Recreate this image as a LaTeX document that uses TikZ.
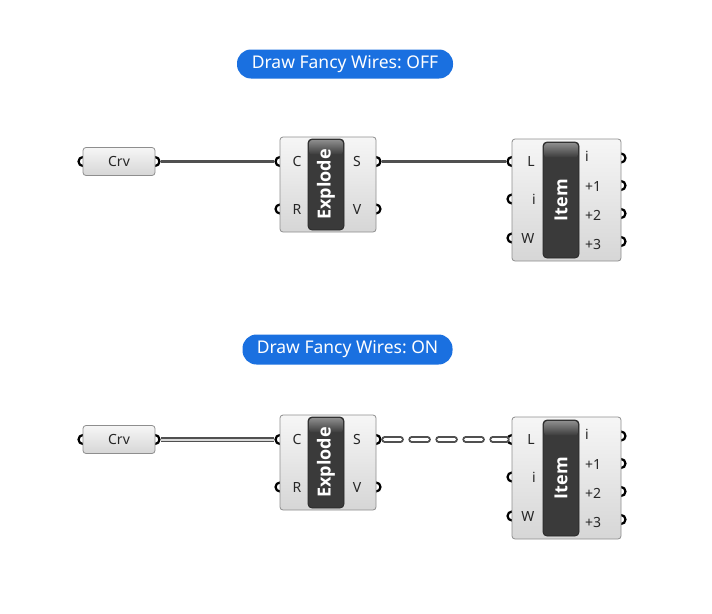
\documentclass[tikz,border=0pt]{standalone}
\usepackage{fontspec}
\setmainfont{Noto Sans}
\newfontfamily\barfont{Open Sans}
\usetikzlibrary{calc}
\frenchspacing
\definecolor{pillblue}{HTML}{1A70E0}
\definecolor{compedge}{HTML}{8E8E8E}
\definecolor{comptop}{HTML}{F6F6F6}
\definecolor{compbot}{HTML}{D6D6D6}
\definecolor{bardark}{HTML}{3A3A3A}
\definecolor{wirecol}{HTML}{505050}
\tikzset{
  pill/.style={fill=pillblue, rounded corners=14pt, text=white, inner sep=0pt,
    font=\frenchspacing\fontsize{17.5}{17.5}\selectfont},
  comp/.style={draw=compedge, line width=0.8pt, rounded corners=3pt,
    top color=comptop, bottom color=compbot, inner sep=0pt,
    font=\fontsize{14}{14}\selectfont, text=black!85},
  bar/.style={draw=black!85, line width=0.8pt, fill=bardark, rounded corners=4pt, inner sep=0pt},
  bartext/.style={rotate=90, text=white, font=\barfont\bfseries\fontsize{18}{18}\selectfont},
  pin/.style={circle, draw=black, fill=white, line width=2.2pt, inner sep=0pt, minimum size=9pt},
  plab/.style={font=\fontsize{14}{14}\selectfont, text=black!85, inner sep=0pt},
  wire/.style={draw=wirecol, line width=3pt},
  listwire/.style={draw=wirecol, line width=1.2pt, double=white!85!black, double distance=2pt},
}
\begin{document}
\begin{tikzpicture}[x=1pt,y=-1pt]
\useasboundingbox[fill=white] (0,0) rectangle (712,613);

\node[pill, minimum width=216pt, minimum height=29pt] (titleoff) at (345,64) {Draw Fancy Wires: OFF};
\node[pill, minimum width=210pt, minimum height=30pt] (titleon) at (347.5,349.5) {Draw Fancy Wires: ON};

\foreach \s/\dy in {a/0,b/278}{
\begin{scope}[shift={(0,\dy)}]
  % ports (behind boxes)
  \node[pin] (crvI\s) at (83,161.5) {};
  \node[pin] (crvO\s) at (155,161.5) {};
  \node[pin] (exC\s) at (280,161.5) {};
  \node[pin] (exR\s) at (280,209) {};
  \node[pin] (exS\s) at (376,161.5) {};
  \node[pin] (exV\s) at (376,209) {};
  \node[pin] (itL\s) at (512,161.5) {};
  \node[pin] (iti\s) at (512,199) {};
  \node[pin] (itW\s) at (512,238) {};
  \node[pin] (ito0\s) at (621,158) {};
  \node[pin] (ito1\s) at (621,185.5) {};
  \node[pin] (ito2\s) at (621,213.5) {};
  \node[pin] (ito3\s) at (621,241.5) {};
  % boxes
  \node[comp, minimum width=72pt, minimum height=28pt] (crv\s) at (119,161.5) {Crv};
  \node[comp, minimum width=96pt, minimum height=95pt] (ex\s) at (328,184.5) {};
  \node[bar, minimum width=36pt, minimum height=91pt] (exbar\s) at (326,184.5) {};
  \shade[top color=black!45, bottom color=bardark, rounded corners=3pt]
    ($(exbar\s.north west)+(1.5,1.5)$) rectangle ($(exbar\s.north east)+(-1.5,16)$);
  \node[bartext] at (exbar\s) {Explode};
  \node[comp, minimum width=109pt, minimum height=122pt] (it\s) at (566.5,200) {};
  \node[bar, minimum width=36pt, minimum height=116pt] (itbar\s) at (561,200) {};
  \shade[top color=black!45, bottom color=bardark, rounded corners=3pt]
    ($(itbar\s.north west)+(1.5,1.5)$) rectangle ($(itbar\s.north east)+(-1.5,16)$);
  \node[bartext] at (itbar\s) {Item};
  % port labels
  \node[plab] at (297,161.5) {C};
  \node[plab] at (297,209) {R};
  \node[plab] at (357,161.5) {S};
  \node[plab] at (357,209) {V};
  \node[plab] at (531,161) {L};
  \node[plab] at (534,199) {i};
  \node[plab] at (528,238) {W};
  \node[plab, anchor=west] at (585,156) {i};
  \node[plab, anchor=west] at (585,186) {+1};
  \node[plab, anchor=west] at (585,215) {+2};
  \node[plab, anchor=west] at (585,244) {+3};
\end{scope}
}

% wires: fancy OFF
\draw[wire] (crvOa.east) -- (exCa.west);
\draw[wire] (exSa.east) -- (itLa.west);
% wires: fancy ON
\draw[listwire] (crvOb.east) -- (exCb.west);
\draw[draw=wirecol, line width=6.5pt, line cap=round, dash pattern=on 16pt off 11pt, dash phase=-3pt]
  (exSb.east) -- (itLb.west);
\draw[draw=white, line width=2.8pt, line cap=round, dash pattern=on 16pt off 11pt, dash phase=-3pt]
  (exSb.east) -- (itLb.west);
\end{tikzpicture}
\end{document}
